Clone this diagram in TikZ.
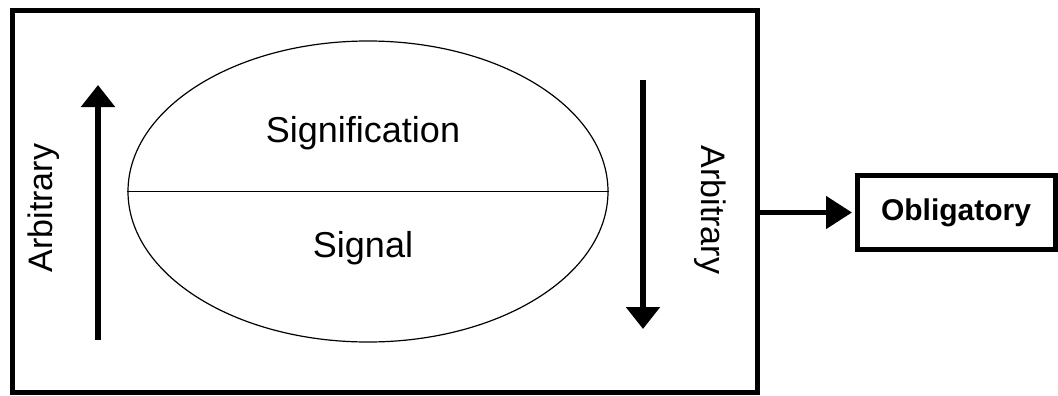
\documentclass[tikz,border=0pt]{standalone}
\usepackage{fontspec}
\setmainfont{Liberation Sans}
\usetikzlibrary{arrows.meta,shapes.geometric}
\begin{document}
\begin{tikzpicture}[x=1pt,y=-1pt,
  bigarrow/.style={line width=6pt,-{Triangle[length=22pt,width=33pt]}},
  conn/.style={line width=5pt,-{Triangle[length=26pt,width=32pt]},shorten >=2.5pt},
  mainlbl/.style={font=\fontsize{36}{40}\selectfont, inner sep=0pt},
  sidelbl/.style={font=\fontsize{34}{38}\selectfont, inner sep=0pt},
  oblbox/.style={draw, line width=5pt, inner sep=0pt, minimum width=198pt, minimum height=74pt,
    font=\bfseries\fontsize{30}{34}\selectfont},
  outerbox/.style={draw, line width=5pt, inner sep=0pt, minimum width=745pt, minimum height=381.5pt},
  ellbox/.style={draw, ellipse, line width=1.2pt, inner sep=0pt, minimum width=480pt, minimum height=301pt}]
\useasboundingbox (0,0) rectangle (1058,396);
\node[outerbox] (outer) at (385,201.25) {};
\node[ellbox] (ell) at (368,191.5) {};
\draw[line width=1.2pt] (ell.west) -- (ell.east);
\node[mainlbl] (signif) at (363,133) {Signification};
\node[mainlbl] (signal) at (363,248) {Signal};
\coordinate (la1) at (98,340);
\coordinate (la2) at (98,85);
\coordinate (ra1) at (643,80);
\coordinate (ra2) at (643,329);
\draw[bigarrow] (la1) -- (la2);
\draw[bigarrow] (ra1) -- (ra2);
\node[sidelbl, rotate=90] (arbl) at (44,208) {Arbitrary};
\node[sidelbl, rotate=-90] (arbr) at (710,210) {Arbitrary};
\node[oblbox] (obl) at (956,212.5) {Obligatory\hspace{10pt}};
\draw[conn] (outer.east |- obl.west) -- (obl.west);
\end{tikzpicture}
\end{document}
